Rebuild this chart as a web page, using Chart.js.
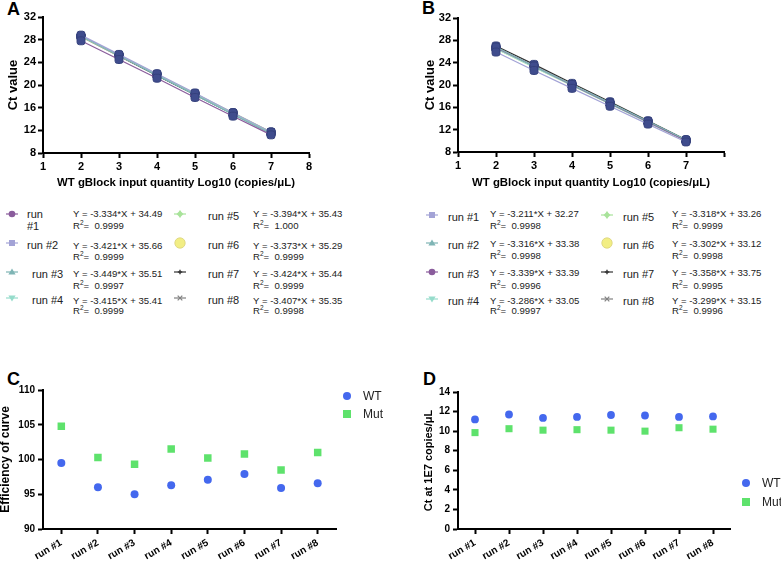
<!DOCTYPE html>
<html><head><meta charset="utf-8">
<script src="https://cdn.jsdelivr.net/npm/chart.js@4/dist/chart.umd.min.js"></script>
<style>
html,body{margin:0;padding:0;background:#fff;}
body{width:781px;height:562px;position:relative;overflow:hidden;font-family:"Liberation Sans",Arial,sans-serif;}
canvas{position:absolute;}
.t{position:absolute;white-space:nowrap;color:#222;}
.letter{position:absolute;font-weight:bold;font-size:18px;line-height:18px;color:#000;}
svg.m{position:absolute;overflow:visible;}
</style></head><body>
<div class="letter" style="left:7px;top:0px">A</div>
<div class="letter" style="left:422px;top:-1px">B</div>
<div class="letter" style="left:7px;top:370px">C</div>
<div class="letter" style="left:423px;top:370px">D</div>
<canvas id="cA" width="330" height="200" style="left:0;top:0;width:330px;height:200px"></canvas>
<canvas id="cB" width="340" height="200" style="left:390px;top:0;width:340px;height:200px"></canvas>
<canvas id="cC" width="390" height="222" style="left:0;top:340px;width:390px;height:222px"></canvas>
<canvas id="cD" width="391" height="222" style="left:390px;top:340px;width:391px;height:222px"></canvas>
<div id="legends"></div>
<script>
// ---------- data ----------
const xLog = [2, 3, 4, 5, 6, 7];
const runNames = ['run #1','run #2','run #3','run #4','run #5','run #6','run #7','run #8'];

// Panel A (WT) Ct values per run
const aRun1 = [27.8, 24.5, 21.2, 17.8, 14.5, 11.2];
const aRun2 = [28.8, 25.4, 22.0, 18.6, 15.1, 11.7];
const aRun3 = [28.6, 25.2, 21.7, 18.3, 14.8, 11.4];
const aRun4 = [28.6, 25.2, 21.8, 18.3, 14.9, 11.5];
const aRun5 = [28.6, 25.3, 21.9, 18.5, 15.1, 11.7];
const aRun6 = [28.5, 25.2, 21.8, 18.4, 15.1, 11.7];
const aRun7 = [28.6, 25.2, 21.7, 18.3, 14.9, 11.5];
const aRun8 = [28.5, 25.1, 21.7, 18.3, 14.9, 11.5];
const aEq = ['Y = -3.334*X + 34.49','Y = -3.421*X + 35.66','Y = -3.449*X + 35.51','Y = -3.415*X + 35.41',
             'Y = -3.394*X + 35.43','Y = -3.373*X + 35.29','Y = -3.424*X + 35.44','Y = -3.407*X + 35.35'];
const aR2 = ['0.9999','0.9999','0.9997','0.9999','1.000','0.9999','0.9999','0.9998'];

// Panel B Ct values per run
const bRun1 = [25.9, 22.6, 19.4, 16.2, 13.0, 9.8];
const bRun2 = [26.8, 23.4, 20.1, 16.8, 13.5, 10.2];
const bRun3 = [26.7, 23.4, 20.0, 16.7, 13.4, 10.0];
const bRun4 = [26.5, 23.2, 19.9, 16.6, 13.3, 10.1];
const bRun5 = [26.6, 23.3, 20.0, 16.7, 13.4, 10.0];
const bRun6 = [26.5, 23.2, 19.9, 16.6, 13.3, 10.0];
const bRun7 = [27.0, 23.7, 20.3, 17.0, 13.6, 10.2];
const bRun8 = [26.6, 23.3, 20.0, 16.7, 13.4, 10.1];
const bEq = ['Y = -3.211*X + 32.27','Y = -3.316*X + 33.38','Y = -3.339*X + 33.39','Y = -3.286*X + 33.05',
             'Y = -3.318*X + 33.26','Y = -3.302*X + 33.12','Y = -3.358*X + 33.75','Y = -3.299*X + 33.15'];
const bR2 = ['0.9998','0.9998','0.9996','0.9997','0.9999','0.9998','0.9995','0.9996'];

// Panel C: efficiency of curve
const effWT  = [99.5, 96.0, 95.0, 96.3, 97.1, 97.9, 95.9, 96.6];
const effMut = [104.8, 100.3, 99.3, 101.5, 100.2, 100.8, 98.5, 101.0];

// Panel D: Ct at 1E7 copies/uL
const ctWT  = [11.2, 11.7, 11.35, 11.45, 11.65, 11.6, 11.45, 11.5];
const ctMut = [9.85, 10.25, 10.1, 10.15, 10.1, 10.0, 10.35, 10.2];

const xTicksA = [1, 2, 3, 4, 5, 6, 7, 8];

// ---------- styles ----------
const FONT = 'Liberation Sans, Arial, sans-serif';
const WT_C = '#4468ee', MUT_C = '#5ee26c';
const aColors = ['#8a5c9c','#a3a3d6','#7fb5b5','#96dccb','#a9e39b','#e8e48a','#333333','#808080'];
const aShapes = ['circle','square','tri','dtri','plus','bigcircle','smallplus','x'];
const bColors = ['#a3a3d6','#7fb5b5','#8a5c9c','#96dccb','#a9e39b','#e8e48a','#333333','#808080'];
const bShapes = ['square','tri','circle','dtri','plus','bigcircle','smallplus','x'];

Chart.defaults.font.family = FONT;
Chart.defaults.color = '#000';

function axisCommon() {
  return {
    grid: {display: true, drawOnChartArea: false, drawTicks: true, tickLength: 5, tickWidth: 2, tickColor: '#000'},
    border: {display: true, color: '#000', width: 2},
  };
}
function tickFont(sz) { return {family: FONT, weight: 'bold', size: sz || 10}; }

function xyChart(id, w, h, area, runs, colors, yTitlePad, hideLast) {
  const datasets = runs.map((r, i) => ({
    label: runNames[i],
    data: xLog.map((x, j) => ({x: x, y: r[j]})),
    borderColor: colors[i],
    borderWidth: 1.2,
    pointStyle: 'rectRounded',
    pointRadius: 4.6,
    pointBackgroundColor: '#3f4c8d',
    pointBorderColor: '#35417c',
    pointBorderWidth: 1,
    fill: false,
    tension: 0
  }));
  return new Chart(document.getElementById(id), {
    type: 'line',
    data: {datasets},
    options: {
      responsive: false, animation: false, devicePixelRatio: 1,
      layout: {padding: {left: 0, top: area.t, right: w - area.r, bottom: 0}},
      plugins: {legend: {display: false}, tooltip: {enabled: false}},
      scales: {
        x: Object.assign(axisCommon(), {
          type: 'linear', min: 1, max: 8,
          afterBuildTicks: s => { s.ticks = xTicksA.map(v => ({value: v})); },
          ticks: {font: tickFont(11), color: '#000', padding: 2,
                  callback: v => (hideLast && v === 8) ? '' : String(v)},
          title: {display: true, text: 'WT gBlock input quantity Log10 (copies/μL)',
                  font: {family: FONT, weight: 'bold', size: 11.4}, color: '#000', padding: {top: 0, bottom: 10}},
          afterFit: s => { s.height = h - area.b; }
        }),
        y: Object.assign(axisCommon(), {
          type: 'linear', min: 8, max: 32,
          ticks: {stepSize: 4, font: tickFont(11), color: '#000', padding: 2},
          title: {display: true, text: 'Ct value', font: {family: FONT, weight: 'bold', size: 13},
                  color: '#000', padding: {top: yTitlePad, bottom: 0}},
          afterFit: s => { s.width = area.l; }
        })
      }
    }
  });
}

function catChart(id, w, h, area, wt, mut, ymin, ymax, step, yTitle, yTitleSize, yTitlePad, wtR, mutR) {
  return new Chart(document.getElementById(id), {
    type: 'line',
    data: {
      labels: runNames,
      datasets: [
        {label: 'WT', data: wt, showLine: false, pointStyle: 'circle', pointRadius: wtR,
         pointBackgroundColor: WT_C, pointBorderColor: WT_C, pointBorderWidth: 0},
        {label: 'Mut', data: mut, showLine: false, pointStyle: 'rect', pointRadius: mutR,
         pointBackgroundColor: MUT_C, pointBorderColor: MUT_C, pointBorderWidth: 0}
      ]
    },
    options: {
      responsive: false, animation: false, devicePixelRatio: 1,
      layout: {padding: {left: 0, top: area.t, right: w - area.r, bottom: 0}},
      plugins: {legend: {display: false}, tooltip: {enabled: false}},
      scales: {
        x: Object.assign(axisCommon(), {
          type: 'category', offset: true,
          ticks: {font: tickFont(10), color: '#000', padding: 3, minRotation: 30, maxRotation: 30, autoSkip: false},
          afterFit: s => { s.height = h - area.b; }
        }),
        y: Object.assign(axisCommon(), {
          type: 'linear', min: ymin, max: ymax,
          ticks: {stepSize: step, font: tickFont(10), color: '#000', padding: 3},
          title: {display: true, text: yTitle, font: {family: FONT, weight: 'bold', size: yTitleSize},
                  color: '#000', padding: {top: yTitlePad, bottom: 0}},
          afterFit: s => { s.width = area.l; }
        })
      }
    }
  });
}

xyChart('cA', 330, 200, {l: 43, t: 17, r: 309, b: 153},
  [aRun1, aRun2, aRun3, aRun4, aRun5, aRun6, aRun7, aRun8], aColors, 5.5, false);
xyChart('cB', 340, 200, {l: 68, t: 18, r: 334, b: 152},
  [bRun1, bRun2, bRun3, bRun4, bRun5, bRun6, bRun7, bRun8], bColors, 33, true);
catChart('cC', 390, 222, {l: 43, t: 50, r: 336, b: 189}, effWT, effMut, 90, 110, 5,
  'Efficiency of curve', 12, -2, 4, 5.3);
catChart('cD', 391, 222, {l: 68, t: 52, r: 340, b: 189}, ctWT, ctMut, 0, 14, 2,
  'Ct at 1E7 copies/μL', 11, 32, 3.9, 5);

// ---------- HTML legends ----------
const L = document.getElementById('legends');
function txt(x, yc, html, size, lh) {
  const d = document.createElement('div');
  d.className = 't';
  d.style.left = x + 'px';
  d.style.top = (yc - lh / 2) + 'px';
  d.style.fontSize = size + 'px';
  d.style.lineHeight = lh + 'px';
  d.innerHTML = html;
  L.appendChild(d);
}
function marker(cx, cy, shape, color) {
  let inner = '';
  const line = `<line x1="-6" y1="0" x2="6" y2="0" stroke="${color}" stroke-width="1.2"/>`;
  switch (shape) {
    case 'circle': inner = line + `<circle cx="0" cy="0" r="3.3" fill="${color}"/>`; break;
    case 'square': inner = line + `<rect x="-3" y="-3" width="6" height="6" fill="${color}"/>`; break;
    case 'tri': inner = line + `<polygon points="0,-3.6 3.6,2.6 -3.6,2.6" fill="${color}"/>`; break;
    case 'dtri': inner = line + `<polygon points="-3.6,-2.6 3.6,-2.6 0,3.6" fill="${color}"/>`; break;
    case 'plus': inner = line + `<polygon points="0,-3.5 3.5,0 0,3.5 -3.5,0" fill="${color}"/><line x1="0" y1="-3.5" x2="0" y2="3.5" stroke="${color}" stroke-width="1.2"/>`; break;
    case 'bigcircle': inner = `<circle cx="0" cy="0" r="5.2" fill="#f2ee84" stroke="#d9d27a" stroke-width="0.8"/>`; break;
    case 'smallplus': inner = line + `<line x1="0" y1="-2.2" x2="0" y2="2.2" stroke="${color}" stroke-width="1.4"/><line x1="-2.2" y1="0" x2="2.2" y2="0" stroke="${color}" stroke-width="1.4"/>`; break;
    case 'x': inner = line + `<line x1="-2.3" y1="-2.3" x2="2.3" y2="2.3" stroke="${color}" stroke-width="1.2"/><line x1="-2.3" y1="2.3" x2="2.3" y2="-2.3" stroke="${color}" stroke-width="1.2"/>`; break;
  }
  const s = `<svg class="m" width="14" height="12" viewBox="-7 -6 14 12" style="left:${cx - 7}px;top:${cy - 6}px">${inner}</svg>`;
  L.insertAdjacentHTML('beforeend', s);
}

// Panel A legend
const aRows = [{m: 214, e: 213.5, r: 225.5}, {m: 243, e: 245, r: 256.5}, {m: 272, e: 273.5, r: 285}, {m: 298, e: 300, r: 310.5}];
const aCols = [{mx: 12, lx: 27, ex: 73}, {mx: 180, lx: 208, ex: 253}];
for (let i = 0; i < 8; i++) {
  const col = aCols[Math.floor(i / 4)], row = aRows[i % 4];
  marker(col.mx, row.m, aShapes[i], aColors[i]);
  if (i === 0) {
    txt(col.lx, 213.5, 'run', 11, 12);
    txt(col.lx, 226, '#1', 11, 12);
  } else {
    const lx = (i === 2 || i === 3) ? 32 : col.lx;
    txt(lx, row.m + 1.5, runNames[i], 11, 12);
  }
  txt(col.ex, row.e, aEq[i], 9.6, 11);
  txt(col.ex, row.r, 'R<sup style="font-size:6.5px;vertical-align:4px;line-height:0">2</sup>=&nbsp; ' + aR2[i], 9.6, 11);
}

// Panel B legend
const bRows = [{m: 215, e: 213, r: 225}, {m: 243, e: 243.5, r: 255}, {m: 272, e: 272.5, r: 285}, {m: 299, e: 300, r: 310.5}];
const bCols = [{mx: 432, lx: 448, ex: 490}, {mx: 607, lx: 623, ex: 672}];
for (let i = 0; i < 8; i++) {
  const col = bCols[Math.floor(i / 4)], row = bRows[i % 4];
  marker(col.mx, row.m, bShapes[i], bColors[i]);
  txt(col.lx, row.m + 1.5, runNames[i], 11, 12);
  txt(col.ex, row.e, bEq[i], 9.6, 11);
  txt(col.ex, row.r, 'R<sup style="font-size:6.5px;vertical-align:4px;line-height:0">2</sup>=&nbsp; ' + bR2[i], 9.6, 11);
}

// Panel C / D legends
function wtMutLegend(x, tx, y1, y2) {
  L.insertAdjacentHTML('beforeend',
    `<div style="position:absolute;left:${x - 4}px;top:${y1 - 4}px;width:8px;height:8px;border-radius:50%;background:${WT_C}"></div>` +
    `<div style="position:absolute;left:${x - 3.75}px;top:${y2 - 3.75}px;width:7.5px;height:7.5px;background:${MUT_C}"></div>`);
  txt(tx, y1, 'WT', 12, 14);
  txt(tx, y2, 'Mut', 12, 14);
}
wtMutLegend(347, 363, 396, 414);
wtMutLegend(746, 762, 483, 502);
</script>
</body></html>
